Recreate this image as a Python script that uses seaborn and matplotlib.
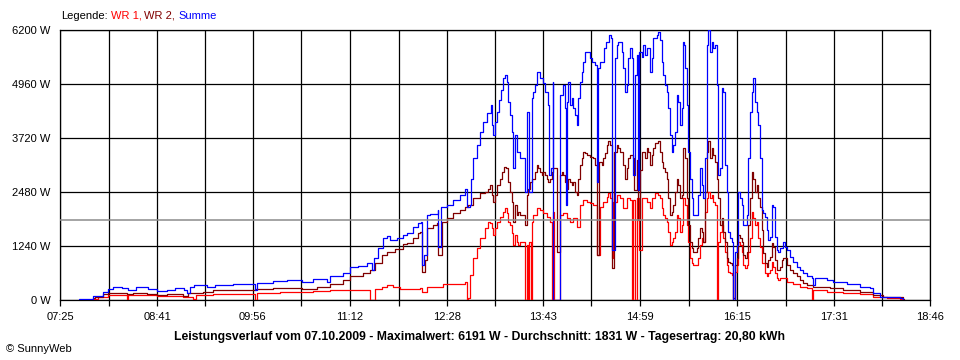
import matplotlib
matplotlib.use("Agg")
import matplotlib.pyplot as plt
import seaborn as sns
import pandas as pd

# ---------------- data (time = minutes after midnight, power in W) ----------------
tick_labels = ["07:25", "08:41", "09:56", "11:12", "12:28", "13:43", "14:59", "16:15", "17:31", "18:46"]
y_ticks = [0, 1240, 2480, 3720, 4960, 6200]
avg_power = 1831
series_names = ["WR 1", "WR 2", "Summe"]
series_colors = ["#ff0000", "#800000", "#0000ff"]

wr1 = [(471.1,20),(475.0,60),(482.8,110),(497.2,20),(498.5,110),(520.7,90),(541.5,80),(549.3,20),(551.2,110),(565.0,140),
       (578.1,140),(597.6,0),(599.0,150),(617.2,180),(643.3,200),(656.3,220),(687.7,0),(691.6,250),(696.8,310),(700.7,340),
       (705.9,290),(711.1,250),(725.5,250),(726.8,280),(728.1,190),(732.0,310),(742.4,310),(745.0,360),(760.7,360),(762.0,420),
       (763.4,0),(764.6,40),(765.9,570),(768.5,960),(771.2,1190),(773.8,1420),(777.7,1650),(780.3,1800),(781.6,1760),(782.9,1650),
       (784.2,1490),(785.5,1650),(786.8,1800),(789.4,1910),(792.0,2030),(793.3,2110),(794.7,1990),(795.9,1800),(797.2,1720),(798.6,1530),
       (799.8,1260),(801.2,1490),(802.5,1340),(803.7,1260),(805.1,1340),(807.7,1340),(809.0,0),(810.3,1260),(811.6,0),(812.4,1340),
       (813.5,0),(814.2,1800),(815.5,1950),(818.1,2110),(820.7,2070),(823.3,1990),(826.0,1910),(828.6,1800),(829.9,0),(831.1,2030),
       (831.9,0),(835.8,0),(836.4,1950),(839.0,1990),(841.6,1880),(844.2,1800),(846.8,1880),(849.5,1680),(852.0,2180),(854.6,2300),
       (857.3,2260),(859.9,2220),(862.5,2180),(865.6,1030),(867.7,2140),(870.3,2260),(872.9,2370),(874.2,2450),(875.5,2340),(877.3,960),
       (878.1,2260),(880.8,2410),(883.3,2340),(885.9,2110),(888.6,2340),(891.2,2300),(893.0,0),(893.9,2300),(895.1,0),(896.4,2340),
       (898.5,1150),(900.3,2340),(902.9,2340),(904.2,2260),(906.8,2110),(908.2,2340),(910.7,2450),(913.3,2410),(914.7,2340),(916.0,2110),
       (917.2,1950),(918.6,1880),(919.9,1800),(921.2,1570),(922.5,1260),(923.8,1340),(925.1,1420),(926.4,1570),(927.7,1950),(929.0,1880),
       (930.3,1570),(931.6,1720),(932.9,2340),(934.2,2180),(935.6,1720),(936.8,1340),(938.1,960),(939.5,840),(940.7,800),(943.4,800),
       (944.6,960),(946.0,1260),(947.3,1420),(948.6,1340),(949.9,2030),(951.2,2340),(952.5,2490),(953.8,2340),(955.1,2410),(956.4,2260),
       (957.7,2180),(959.0,0),(960.3,1340),(961.6,1570),(963.0,1720),(964.2,1420),(965.5,1110),(966.9,800),(968.1,650),(969.5,610),
       (970.8,570),(971.6,0),(973.4,650),(974.7,800),(976.0,1340),(977.3,1260),(978.6,1110),(979.9,800),(981.2,730),(982.5,800),
       (983.8,1110),(985.1,1420),(986.4,2030),(987.7,1880),(989.0,1720),(990.4,1800),(991.6,1420),(992.9,1220),(994.3,840),(996.8,610),
       (998.2,540),(999.4,610),(1000.8,690),(1002.1,880),(1003.3,760),(1004.7,610),(1006.0,500),(1007.3,460),(1008.6,500),(1011.2,500),
       (1013.8,420),(1019.0,370),(1024.2,310),(1029.5,270),(1033.4,230),(1033.9,0),(1034.7,230),(1045.1,190),(1058.1,170),(1071.2,140),
       (1081.6,80),(1092.1,50),(1102.5,30),(1105.1,0)]

wr2 = [(471.1,40),(472.4,80),(478.9,130),(482.8,170),(493.3,150),(497.2,130),(502.4,150),(512.9,140),(520.7,110),(528.5,140),
       (541.5,100),(545.4,170),(557.2,180),(565.0,220),(578.1,230),(597.6,250),(612.0,280),(634.2,260),(645.9,310),(656.3,370),
       (666.8,460),(672.0,540),(682.4,610),(687.7,700),(691.6,840),(696.8,1030),(700.7,1110),(707.2,1160),(713.7,1280),(716.4,1310),
       (721.5,1420),(725.5,1530),(726.8,1570),(728.1,650),(730.7,920),(732.0,1650),(737.2,1720),(739.9,1760),(741.1,1030),(743.8,1800),
       (747.7,1880),(752.9,1990),(758.1,2070),(762.0,2140),(764.6,2180),(768.5,2340),(773.8,2450),(777.7,2490),(780.3,2560),(781.6,2640),
       (782.9,2410),(784.2,2260),(785.5,2410),(786.8,2640),(789.4,2790),(790.7,2950),(792.5,3060),(794.1,3020),(795.9,2720),(797.2,2490),
       (798.6,2260),(799.8,1800),(801.2,2180),(802.5,1950),(803.7,2030),(805.1,1950),(807.7,1950),(809.0,1720),(810.3,2410),(811.6,2560),
       (812.9,2720),(814.2,2790),(816.8,2950),(818.1,3100),(819.4,3020),(820.7,2950),(822.1,2870),(823.3,2950),(824.6,2870),(826.0,2790),
       (827.2,2720),(828.6,2790),(829.9,2950),(831.1,3020),(833.8,1110),(835.8,1110),(836.4,2870),(837.7,2950),(839.0,2870),(840.3,2720),
       (841.6,2560),(842.9,2790),(844.2,2720),(845.5,2640),(846.8,2720),(848.1,2490),(849.5,2410),(850.7,2790),(852.0,3100),(853.4,3250),
       (854.6,3410),(856.0,3370),(857.3,3330),(859.9,3290),(862.5,3250),(863.8,3100),(865.6,1030),(867.1,3180),(869.0,3100),(870.3,3250),
       (871.6,3370),(872.9,3560),(874.2,3640),(875.5,3560),(877.1,730),(878.6,3410),(880.8,3560),(882.0,3480),(883.3,3410),(885.9,3100),
       (887.3,2790),(888.6,3020),(889.8,3250),(891.2,3330),(893.3,3250),(894.3,2530),(896.4,3210),(897.7,1840),(899.0,2990),(900.3,3410),
       (902.9,3250),(904.2,3480),(905.5,3410),(906.8,3100),(908.2,3330),(909.4,3480),(910.7,3600),(913.3,3640),(914.7,3410),(916.0,3180),
       (917.2,3020),(918.6,2950),(919.9,2790),(921.2,2340),(922.5,1950),(923.8,2030),(925.1,2180),(926.4,2490),(927.7,2790),(929.0,2640),
       (930.3,2340),(931.6,2410),(932.9,3480),(934.2,3250),(935.6,2340),(936.8,1720),(938.1,1340),(939.5,1190),(940.7,1110),(943.4,1190),
       (944.6,1420),(946.0,1650),(947.3,1570),(948.6,1340),(949.9,2490),(951.2,3410),(952.5,3640),(953.8,3250),(955.1,3480),(956.4,3330),
       (957.7,3180),(959.0,2790),(960.3,2340),(961.6,1720),(963.0,1880),(964.2,1570),(965.5,1340),(966.9,960),(968.1,880),(969.5,840),
       (970.8,800),(972.0,50),(973.4,800),(974.7,960),(976.0,1490),(977.3,1420),(978.6,1340),(979.9,1030),(981.2,960),(982.5,1110),
       (983.8,1720),(985.1,2340),(986.4,2950),(987.7,2790),(989.0,2490),(990.4,2640),(991.6,2340),(992.9,2140),(994.3,1610),(995.5,1070),
       (996.8,840),(998.2,760),(999.4,920),(1000.8,990),(1002.1,1300),(1003.3,1220),(1004.7,920),(1006.0,690),(1007.3,690),(1008.6,760),
       (1009.9,920),(1011.2,960),(1013.8,800),(1016.4,690),(1019.0,610),(1021.7,540),(1024.2,460),(1026.8,380),(1029.5,340),(1034.7,290),
       (1047.7,270),(1058.1,230),(1071.2,190),(1081.6,110),(1089.5,80),(1097.3,60),(1105.1,20),(1106.0,0)]

summe = [(459.9,20),(471.1,100),(478.9,190),(482.8,250),(486.7,300),(493.3,270),(498.0,230),(504.5,290),(514.1,260),(520.7,210),
         (528.5,240),(535.0,270),(542.1,230),(544.2,150),(546.8,310),(549.9,340),(559.8,310),(566.3,350),(580.7,370),(589.8,370),
         (597.6,230),(599.0,400),(612.0,430),(622.5,460),(634.2,420),(643.3,480),(653.8,420),(656.3,540),(666.8,630),(672.0,750),
         (678.5,780),(685.1,860),(689.0,690),(690.8,960),(694.2,1190),(698.1,1420),(700.7,1470),(703.3,1380),(708.6,1420),(713.7,1490),
         (716.4,1530),(721.5,1680),(725.5,1760),(727.3,1800),(728.1,800),(729.9,1030),(732.0,1950),(734.6,1970),(740.6,2070),(741.1,1220),
         (743.0,2140),(747.7,2180),(752.9,2300),(758.1,2400),(762.0,2560),(763.4,2140),(765.9,2180),(766.5,2790),(768.5,3250),(771.2,3560),
         (773.8,3860),(776.3,4090),(779.0,4290),(782.1,4480),(782.9,4020),(784.2,3790),(785.5,4090),(786.8,4320),(788.6,4590),(790.2,4820),
         (792.0,5090),(793.3,5170),(794.7,5010),(795.9,4550),(797.2,4250),(798.6,3860),(799.8,3020),(801.2,3790),(802.5,3410),(805.1,3250),
         (807.7,3250),(809.0,2490),(810.8,4320),(812.4,2490),(814.2,4630),(815.5,4780),(816.8,4940),(818.1,5240),(820.7,5090),(823.3,4980),
         (824.6,4780),(827.2,4480),(828.0,2870),(829.1,3020),(830.7,5010),(831.1,0),(835.1,0),(836.4,4710),(839.0,4940),(840.3,4400),
         (840.8,2180),(841.6,4550),(842.9,5010),(844.2,4480),(845.5,4630),(846.8,4400),(848.1,4250),(849.5,4020),(850.7,4630),(852.0,5010),
         (853.4,5240),(854.6,5470),(856.0,5700),(859.9,5550),(861.2,5470),(863.8,5400),(865.1,2720),(866.4,5320),(867.7,5470),(870.8,5780),
         (872.4,5930),(875.0,6090),(876.1,6010),(877.3,1150),(879.4,5550),(880.8,5860),(882.0,5930),(884.7,5700),(885.9,5320),(887.3,4780),
         (888.6,4940),(889.8,5550),(891.2,5780),(892.5,5550),(893.3,2870),(895.1,5170),(896.4,5630),(897.7,2530),(898.5,5700),(900.3,5590),
         (901.6,5860),(902.9,5630),(904.2,5780),(906.8,5240),(908.2,5550),(909.4,6010),(912.1,6090),(913.3,6160),(914.7,5970),(916.0,5470),
         (917.2,5170),(918.6,4940),(919.9,4780),(921.2,4400),(922.5,3790),(923.8,3410),(925.1,3560),(926.4,3860),(927.7,4710),(929.0,4550),
         (930.3,4020),(931.6,4400),(932.4,5930),(933.4,5860),(934.2,5320),(935.6,4480),(936.8,3410),(938.1,2790),(939.5,2340),(940.7,1950),
         (943.4,1950),(944.6,2410),(946.0,3020),(947.3,2640),(948.6,2340),(949.9,3250),(951.2,5860),(952.5,6190),(953.8,5700),(955.1,5930),
         (956.4,5780),(957.7,5860),(959.0,4940),(960.3,2870),(961.6,3020),(963.0,4860),(964.2,4780),(965.5,3100),(966.9,2490),(968.1,1570),
         (969.5,1420),(970.8,1340),(972.0,0),(973.4,1110),(974.7,1260),(976.0,2490),(977.3,2340),(978.6,2180),(979.9,1720),(982.5,1950),
         (983.8,3250),(985.1,4320),(986.4,4780),(987.7,5090),(989.0,4550),(990.4,4320),(991.6,4020),(992.9,3250),(994.3,2070),(995.5,1990),
         (996.8,1910),(998.2,1610),(999.4,1380),(1000.8,1450),(1002.1,2180),(1003.3,2140),(1004.7,1450),(1006.0,1150),(1007.3,1110),(1008.6,1190),
         (1011.2,1340),(1012.5,1220),(1013.8,1150),(1016.4,990),(1019.0,880),(1021.7,760),(1024.2,690),(1026.8,610),(1029.5,540),(1033.4,500),
         (1034.7,340),(1036.0,500),(1045.1,460),(1050.3,420),(1060.8,370),(1071.2,310),(1079.0,270),(1081.6,150),(1086.9,80),(1097.3,60),
         (1102.5,40),(1105.1,0)]

title_text = ("Leistungsverlauf vom 07.10.2009 - Maximalwert: 6191 W - "
              "Durchschnitt: 1831 W - Tagesertrag: 20,80 kWh")

# ---------------- style ----------------
sns.set_style("white")
plt.rcParams["font.family"] = ["Liberation Sans", "DejaVu Sans"]
plt.rcParams["font.size"] = 8

W, H = 960, 360
fig = plt.figure(figsize=(W / 100, H / 100), dpi=100)
ax = fig.add_axes([60 / W, 60 / H, 870 / W, 270 / H])

for name, color, data in zip(series_names, series_colors, [wr1, wr2, summe]):
    df = pd.DataFrame(data, columns=["t", "P"])
    sns.lineplot(data=df, x="t", y="P", ax=ax, color=color, linewidth=0.9,
                 drawstyle="steps-post", estimator=None, sort=False, legend=False, zorder=3)

ax.axhline(avg_power, color="#8c8c8c", linewidth=1.1, zorder=4)

# axes / ticks
major = [int(s[:2]) * 60 + int(s[3:]) for s in tick_labels]
major[0] = 445
minor = [(a + b) / 2 for a, b in zip(major[:-1], major[1:])]
ax.set_xlim(major[0], major[-1])
ax.set_ylim(y_ticks[0], y_ticks[-1])
ax.set_xticks(major)
ax.set_xticklabels(tick_labels)
ax.set_xticks(minor, minor=True)
ax.set_yticks(y_ticks)
ax.set_yticklabels([f"{v} W" for v in y_ticks])
ax.set_xlabel("")
ax.set_ylabel("")

ax.set_axisbelow(True)
ax.grid(which="both", axis="x", color="black", linewidth=0.9)
ax.grid(which="major", axis="y", color="black", linewidth=0.9)
for sp in ax.spines.values():
    sp.set_color("black")
    sp.set_linewidth(0.9)
    sp.set_visible(True)

ax.tick_params(axis="x", which="both", direction="out", length=4, width=0.9,
               color="black", pad=4.5, labelsize=8, labelcolor="black", bottom=True)
ax.tick_params(axis="y", which="both", length=0, pad=7, labelsize=8, labelcolor="black", left=True)

# bottom texts
fig.text(480 / W, 1 - 337 / H, title_text, ha="center", va="center",
         fontsize=8.8, fontweight="bold", color="black")
fig.text(6 / W, 1 - 349 / H, "\u00a9 SunnyWeb", ha="left", va="center", fontsize=8, color="black")

# multi-coloured legend line
fig.canvas.draw()
renderer = fig.canvas.get_renderer()
parts = [("Legende:", "black")]
for i, (n, c) in enumerate(zip(series_names, series_colors)):
    parts.append((n + ("," if i < len(series_names) - 1 else ""), c))
x_px = 61
for txt, col in parts:
    t = fig.text(x_px / W, 1 - 16 / H, txt, ha="left", va="center", fontsize=8, color=col)
    bb = t.get_window_extent(renderer)
    x_px = bb.x1 + 3

fig.savefig("out.png", dpi=100)
